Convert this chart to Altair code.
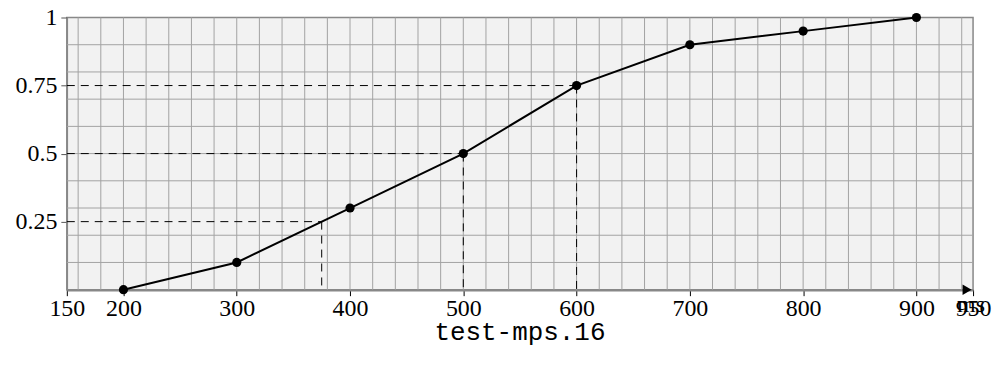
import altair as alt
import pandas as pd

# data
xs = [200, 300, 400, 500, 600, 700, 800, 900]
ys = [0.0, 0.1, 0.3, 0.5, 0.75, 0.9, 0.95, 1.0]
pct = [0.25, 0.5, 0.75]
pct_x = [375, 500, 600]
x_ticks = [150, 200, 300, 400, 500, 600, 700, 800, 900, 950]
y_ticks = [0.25, 0.5, 0.75, 1.0]
x_grid = list(range(160, 960, 20))
y_grid = [0.1, 0.2, 0.3, 0.4, 0.5, 0.6, 0.7, 0.8, 0.9]
x_min, x_max = 150, 950
title_text = "test-mps.16"
unit_text = "ms"

W, H = 909, 273

df = pd.DataFrame({"x": xs, "y": ys})
dp = pd.DataFrame({"p": pct, "v": pct_x, "x0": [x_min] * len(pct)})
dgx = pd.DataFrame({"v": x_grid})
dgy = pd.DataFrame({"v": y_grid})

xsc = alt.Scale(domain=[x_min, x_max], nice=False, zero=False)
ysc = alt.Scale(domain=[0, 1], nice=False)

serif = "Liberation Serif"

x_axis = alt.Axis(
    values=x_ticks, grid=False, labelExpr="toString(datum.value)",
    labelFont=serif, labelFontSize=24, labelColor="black",
    tickColor="black", tickSize=6, labelPadding=1,
    domainColor="#888888", domainWidth=2.5, title=None,
    labelFlush=False, labelOverlap=False)
y_axis = alt.Axis(
    values=y_ticks, grid=False, labelExpr="toString(datum.value)",
    labelFont=serif, labelFontSize=24, labelColor="black",
    tickColor="#555555", tickSize=6, labelPadding=4,
    domainColor="#888888", domainWidth=1.5, title=None,
    labelFlush=False, labelOverlap=False)


def X(f):
    return alt.X(f, scale=xsc, axis=x_axis)


def Y(f):
    return alt.Y(f, scale=ysc, axis=y_axis)


gx = alt.Chart(dgx).mark_rule(color="#a3a3a3", strokeWidth=1).encode(x=X("v:Q"))
gy = alt.Chart(dgy).mark_rule(color="#a3a3a3", strokeWidth=1).encode(y=Y("v:Q"))

main_line = alt.Chart(df).mark_line(color="black", strokeWidth=2).encode(
    x=X("x:Q"), y=Y("y:Q"))

pts = alt.Chart(df).mark_point(filled=True, color="black", size=85, opacity=1).encode(
    x=X("x:Q"), y=Y("y:Q"))

dash_h = alt.Chart(dp).mark_rule(color="black", strokeWidth=1, strokeDash=[8, 6]).encode(
    x=X("x0:Q"), x2="v:Q", y=Y("p:Q"))
dash_v = alt.Chart(dp).mark_rule(color="black", strokeWidth=1, strokeDash=[8, 6]).encode(
    x=X("v:Q"), y=Y("p:Q"), y2=alt.datum(0))

arrow = alt.Chart(pd.DataFrame({"a": [0]})).mark_point(
    shape="triangle-right", filled=True, color="black", size=110, opacity=1).encode(
    x=alt.value(W - 6), y=alt.value(H))

unit = alt.Chart(pd.DataFrame({"a": [unit_text]})).mark_text(
    font=serif, fontSize=24, color="black", align="center", baseline="alphabetic").encode(
    x=alt.value(W - 2), y=alt.value(H + 22), text="a:N")

title = alt.Chart(pd.DataFrame({"a": [title_text]})).mark_text(
    font="Liberation Mono", fontSize=26, color="black", align="center", baseline="middle").encode(
    x=alt.value(W / 2), y=alt.value(H + 42), text="a:N")

chart = alt.layer(gx, gy, main_line, dash_h, dash_v, pts, arrow, unit, title).properties(
    width=W, height=H,
    autosize=alt.AutoSizeParams(type="none"),
    padding={"left": 59, "top": 9, "right": 19, "bottom": 70},
).configure_view(fill="#f2f2f2", stroke="#888888", strokeWidth=1.5)

chart.save("out.html", embed_options={"renderer": "svg", "actions": False})
